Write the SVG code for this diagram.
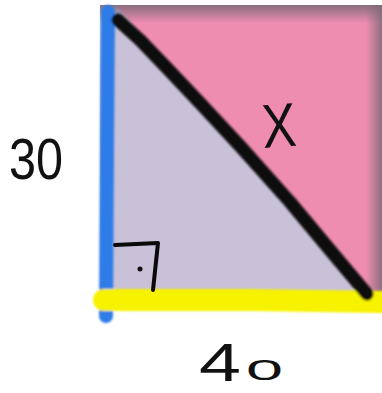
<svg xmlns="http://www.w3.org/2000/svg" width="382" height="393" viewBox="0 0 382 393">
<defs>
<linearGradient id="topShade" x1="0" y1="0" x2="0" y2="1">
<stop offset="0" stop-color="#7d6a78" stop-opacity="0.9"/>
<stop offset="1" stop-color="#7d6a78" stop-opacity="0"/>
</linearGradient>
<linearGradient id="rightShade" x1="1" y1="0" x2="0" y2="0">
<stop offset="0" stop-color="#7d6a78" stop-opacity="0.85"/>
<stop offset="1" stop-color="#7d6a78" stop-opacity="0"/>
</linearGradient>
<filter id="soft" x="-5%" y="-5%" width="110%" height="110%"><feGaussianBlur stdDeviation="0.8"/></filter>
</defs>
<style>
.lbl{font-family:"Liberation Sans","DejaVu Sans",sans-serif;fill:#111;}
.ink{fill:none;stroke:#0a0a0a;stroke-linecap:round;stroke-linejoin:round;}
</style>
<rect width="382" height="393" fill="#ffffff"/>
<g id="square">
<polygon points="100,5 382,5 382,300 100,300" fill="#c8c1d8"/>
<polygon points="116,5 382,5 382,300 367,296" fill="#ee8db0"/>
<rect x="100" y="5" width="282" height="18" fill="url(#topShade)"/>
<rect x="366" y="5" width="16" height="295" fill="url(#rightShade)"/>
</g>
<g id="edges" filter="url(#soft)">
<path d="M108,12 L107,150 L106,316" fill="none" stroke="#2f7be8" stroke-width="14" stroke-linecap="round"/>
<path d="M104,300 L250,300 L382,302" fill="none" stroke="#f7f200" stroke-width="22" stroke-linecap="round"/>
<path class="ink" d="M118,20 L140,40 L165,66 L200,103 L240,146 L290,202 L330,250 L367,294" stroke-width="13"/>
</g>
<g id="right-angle">
<path class="ink" d="M115,245 L158,243 L153,290" stroke-width="4"/>
<circle cx="140" cy="269" r="2.5" fill="#111"/>
</g>
<g id="labels">
<text class="lbl" x="9" y="179" font-size="58" textLength="54" lengthAdjust="spacingAndGlyphs">30</text>
<text class="lbl"><tspan x="199" y="381" font-size="54" textLength="42" lengthAdjust="spacingAndGlyphs">4</tspan><tspan x="246" y="380" font-size="30" textLength="37" lengthAdjust="spacingAndGlyphs">0</tspan></text>
<text class="lbl" x="262" y="147" font-size="62" textLength="34" lengthAdjust="spacingAndGlyphs" transform="rotate(-4 278 125)">X</text>
</g>
</svg>
